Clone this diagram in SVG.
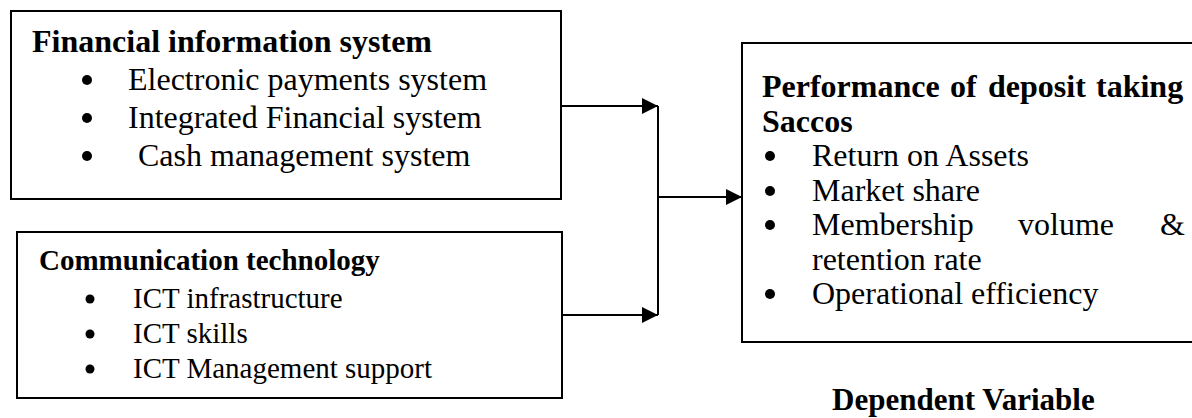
<svg xmlns="http://www.w3.org/2000/svg" width="1192" height="418" viewBox="0 0 1192 418">
  <style>
    .box { fill: #ffffff; stroke: #000000; stroke-width: 2; }
    .t { font-family: "Liberation Serif", "Times New Roman", serif; fill: #000000; }
    .b { font-weight: bold; }
    .s32 { font-size: 32px; }
    .s29 { font-size: 29px; }
    .s31 { font-size: 31px; }
    .dot { fill: #000000; }
    .conn { stroke: #000000; stroke-width: 2; fill: none; }
  </style>
  <defs>
    <marker id="arrow" markerUnits="userSpaceOnUse" markerWidth="16" markerHeight="16" refX="16" refY="8" orient="auto">
      <path d="M0,0 L16,8 L0,16 z" fill="#000000"/>
    </marker>
  </defs>
  <rect width="1192" height="418" fill="#ffffff"/>

  <g id="node-financial">
    <rect class="box" x="11" y="11" width="550" height="188"/>
    <text class="t b s32" x="32" y="52">Financial information system</text>
    <circle class="dot" cx="87" cy="80" r="5"/>
    <text class="t s32" x="128" y="90">Electronic payments system</text>
    <circle class="dot" cx="87" cy="118" r="5"/>
    <text class="t s32" x="128" y="128">Integrated Financial system</text>
    <circle class="dot" cx="87" cy="156" r="5"/>
    <text class="t s32" x="138" y="166">Cash management system</text>
  </g>

  <g id="node-communication">
    <rect class="box" x="17" y="232" width="545" height="166"/>
    <text class="t b s29" x="39" y="270">Communication technology</text>
    <circle class="dot" cx="90" cy="299" r="4.5"/>
    <text class="t s29" x="133" y="308">ICT infrastructure</text>
    <circle class="dot" cx="90" cy="334" r="4.5"/>
    <text class="t s29" x="133" y="343">ICT skills</text>
    <circle class="dot" cx="90" cy="369" r="4.5"/>
    <text class="t s29" x="133" y="378">ICT Management support</text>
  </g>

  <g id="node-performance">
    <rect class="box" x="742" y="43" width="480" height="299"/>
    <text class="t b s32" y="97"><tspan x="762">Performance</tspan><tspan x="950">of</tspan><tspan x="988">deposit</tspan><tspan x="1096">taking</tspan></text>
    <text class="t b s32" x="762" y="132">Saccos</text>
    <circle class="dot" cx="770" cy="156" r="5"/>
    <text class="t s32" x="812" y="166">Return on Assets</text>
    <circle class="dot" cx="770" cy="191" r="5"/>
    <text class="t s32" x="812" y="201">Market share</text>
    <circle class="dot" cx="770" cy="225" r="5"/>
    <text class="t s32" y="235"><tspan x="812">Membership</tspan><tspan x="1018">volume</tspan><tspan x="1160">&amp;</tspan></text>
    <text class="t s32" x="812" y="270">retention rate</text>
    <circle class="dot" cx="770" cy="294" r="5"/>
    <text class="t s32" x="812" y="304">Operational efficiency</text>
  </g>

  <g id="label-dependent">
    <text class="t b s31" x="832" y="410">Dependent Variable</text>
  </g>

  <g id="connectors">
    <line class="conn" x1="561" y1="106" x2="658" y2="106" marker-end="url(#arrow)"/>
    <line class="conn" x1="562" y1="315" x2="658" y2="315" marker-end="url(#arrow)"/>
    <line class="conn" x1="658" y1="106" x2="658" y2="315"/>
    <line class="conn" x1="658" y1="197" x2="742" y2="197" marker-end="url(#arrow)"/>
  </g>
</svg>
